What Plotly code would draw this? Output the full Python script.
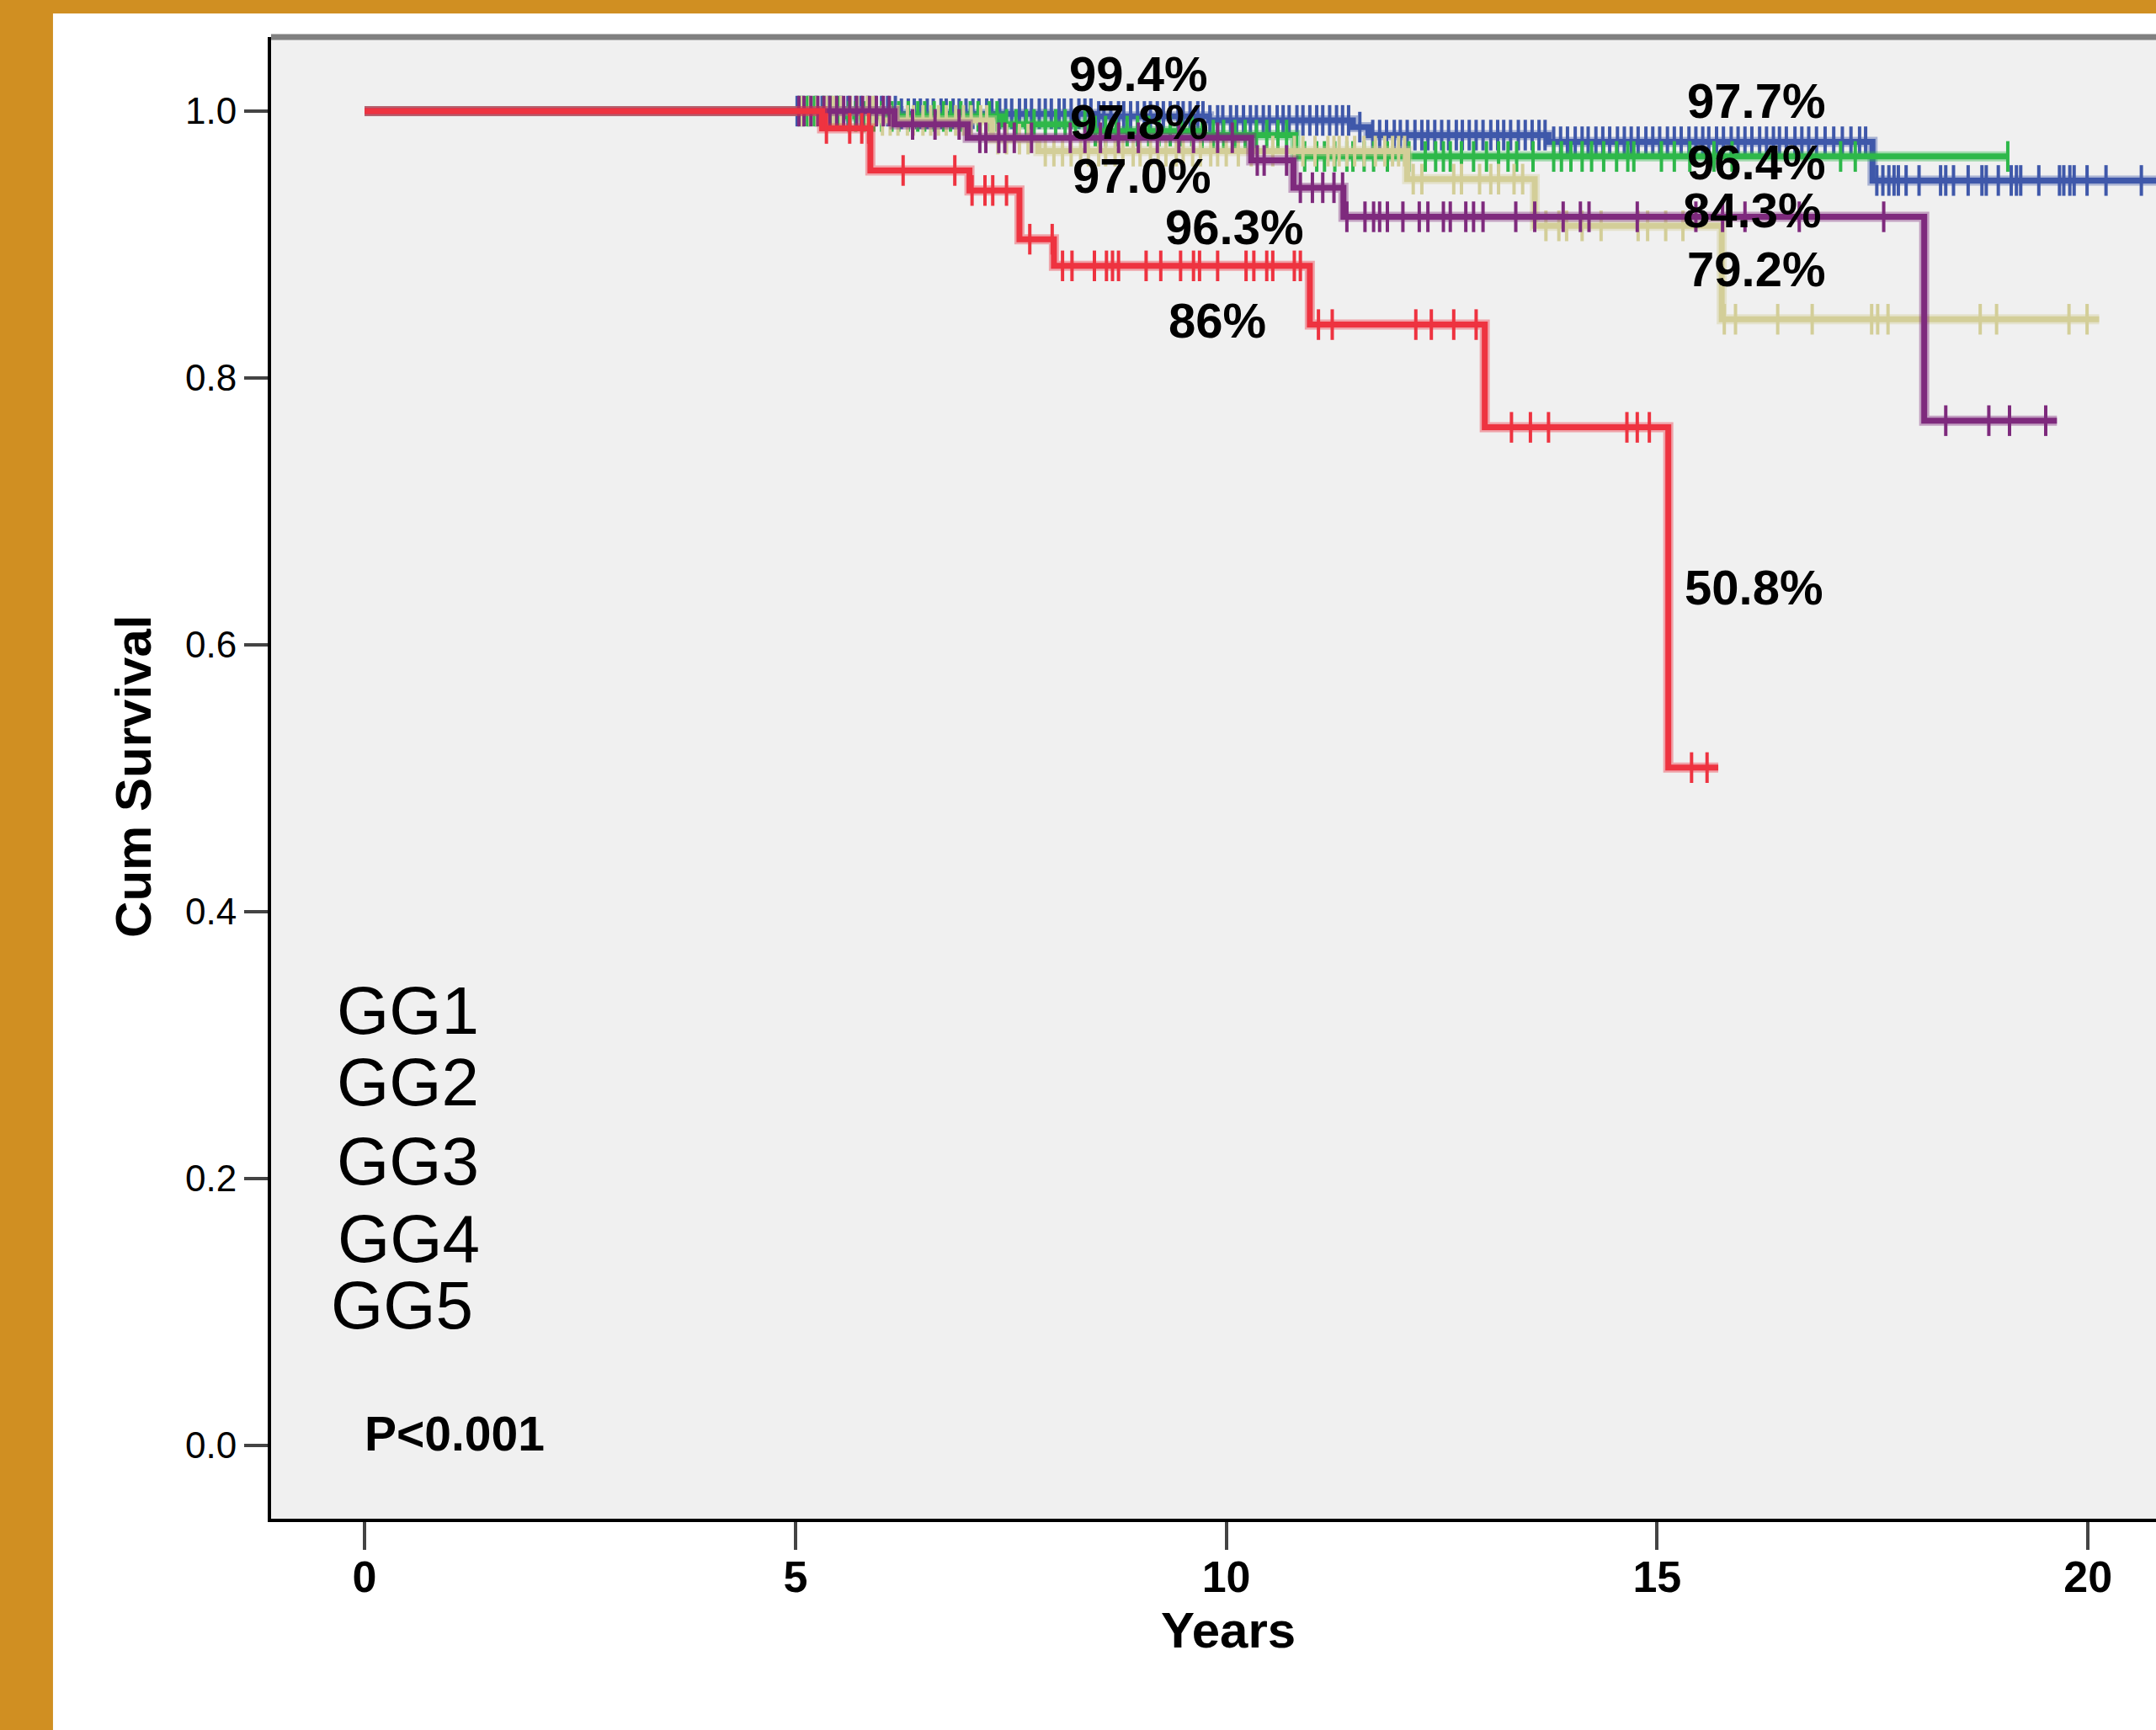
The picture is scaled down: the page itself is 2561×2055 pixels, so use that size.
import plotly.graph_objects as go

# ---------------- data ----------------
groups = ["GG1", "GG2", "GG3", "GG4", "GG5"]
colors = ["#3F58AA", "#2EB84A", "#D3CE98", "#7E2A7D", "#EE3340"]

# step-function event times (years) and cumulative survival
gg1_t = [0, 6.2, 8.5, 9.8, 11.47, 11.65, 13.74, 17.5, 20.9]
gg1_s = [1.0, 0.998, 0.996, 0.993, 0.988, 0.982, 0.977, 0.948, 0.948]
gg2_t = [0, 5.6, 7.4, 8.4, 9.7, 10.8, 19.07]
gg2_s = [1.0, 0.996, 0.990, 0.985, 0.982, 0.966, 0.966]
gg3_t = [0, 6.0, 7.28, 7.82, 12.1, 13.58, 15.75, 20.13]
gg3_s = [1.0, 0.993, 0.979, 0.970, 0.949, 0.914, 0.844, 0.844]
gg4_t = [0, 6.15, 7.0, 10.29, 10.78, 11.36, 18.1, 19.64]
gg4_s = [1.0, 0.990, 0.980, 0.963, 0.9426, 0.9208, 0.768, 0.768]
gg5_t = [0, 5.31, 5.87, 7.02, 7.6, 8.0, 10.97, 13.0, 15.13, 15.71]
gg5_s = [1.0, 0.987, 0.9555, 0.9405, 0.904, 0.884, 0.840, 0.763, 0.508, 0.508]

# censored observation times (years)
gg1_cens = [5.02, 5.09, 5.15, 5.24, 5.31, 5.38, 5.47, 5.53, 5.61, 5.70, 5.76, 5.84, 5.93,
            6.00, 6.07, 6.16, 6.23, 6.31, 6.38, 6.45, 6.53, 6.60, 6.69, 6.75, 6.83, 6.90,
            6.98, 7.06, 7.13, 7.22, 7.28, 7.37, 7.44, 7.51, 7.60, 7.67, 7.74, 7.83, 7.90,
            7.97, 8.06, 8.12, 8.20, 8.29, 8.36, 8.43, 8.52, 8.58, 8.66, 8.75, 8.81, 8.89,
            8.97, 9.05, 9.12, 9.20, 9.27, 9.35, 9.44, 9.50, 9.58, 9.67, 9.73, 9.81, 9.90,
            9.96, 10.05, 10.12, 10.20, 10.28, 10.35, 10.43, 10.50, 10.59, 10.66, 10.73,
            10.82, 10.89, 10.97, 11.05, 11.12, 11.20, 11.28, 11.35, 11.42, 11.55, 11.70,
            11.78, 11.86, 11.95, 12.02, 12.10, 12.19, 12.27, 12.34, 12.42, 12.50, 12.58,
            12.67, 12.74, 12.82, 12.90, 12.98, 13.07, 13.15, 13.22, 13.30, 13.39, 13.47,
            13.55, 13.63, 13.70, 13.80, 13.88, 13.96, 14.05, 14.13, 14.20, 14.29, 14.37,
            14.45, 14.54, 14.62, 14.70, 14.78, 14.87, 14.95, 15.03, 15.12, 15.20, 15.28,
            15.37, 15.45, 15.53, 15.60, 15.69, 15.77, 15.86, 15.94, 16.02, 16.10, 16.19,
            16.27, 16.35, 16.42, 16.50, 16.60, 16.68, 16.76, 16.85, 16.95, 17.05, 17.15,
            17.25, 17.35, 17.42, 17.55, 17.62, 17.69, 17.75, 17.80, 17.89, 18.04, 18.29,
            18.35, 18.44, 18.61, 18.77, 18.82, 18.96, 19.11, 19.17, 19.22, 19.43, 19.67,
            19.72, 19.79, 19.84, 19.99, 20.21, 20.62]
gg2_cens = [5.05, 5.14, 5.22, 5.33, 5.41, 5.50, 5.62, 5.70, 5.80, 5.91, 6.00, 6.12, 6.20,
            6.31, 6.42, 6.50, 6.61, 6.72, 6.80, 6.92, 7.03, 7.12, 7.25, 7.34, 7.45, 7.56,
            7.68, 7.77, 7.90, 8.02, 8.13, 8.25, 8.36, 8.48, 8.60, 8.72, 8.85, 8.97, 9.10,
            9.22, 9.35, 9.48, 9.60, 9.72, 9.85, 9.97, 10.10, 10.22, 10.35, 10.47, 10.60,
            10.70, 10.91, 11.05, 11.14, 11.26, 11.40, 11.47, 11.60, 11.71, 11.87, 12.12,
            12.31, 12.43, 12.52, 12.60, 12.73, 12.87, 13.02, 13.16, 13.27, 13.37, 13.56,
            13.80, 13.89, 14.00, 14.13, 14.24, 14.38, 14.53, 14.66, 14.73, 15.05, 15.20,
            15.38, 15.66, 15.87, 17.13, 17.30, 19.07]
gg3_cens = [5.08, 5.17, 5.25, 5.36, 5.44, 5.53, 5.64, 5.72, 5.83, 5.90, 6.01, 6.10, 6.19,
            6.30, 6.37, 6.48, 6.57, 6.66, 6.75, 6.86, 6.95, 7.04, 7.15, 7.22, 7.35, 7.45,
            7.60, 7.70, 7.90, 8.00, 8.10, 8.20, 8.31, 8.40, 8.52, 8.60, 8.71, 8.80, 8.92,
            9.00, 9.12, 9.21, 9.30, 9.42, 9.50, 9.61, 9.70, 9.82, 9.90, 10.00, 10.14,
            10.29, 10.54, 10.79, 10.89, 11.03, 11.18, 11.25, 11.31, 11.40, 11.49, 11.60,
            11.73, 11.84, 11.93, 12.00, 12.07, 12.17, 12.27, 12.64, 12.73, 12.94, 13.07,
            13.16, 13.34, 13.44, 13.71, 13.86, 13.95, 14.13, 14.35, 14.78, 14.89, 15.10,
            15.30, 15.78, 15.91, 16.40, 16.80, 17.49, 17.56, 17.68, 18.75, 18.94, 19.78,
            19.99]
gg4_cens = [5.04, 5.10, 5.18, 5.26, 5.33, 5.40, 5.48, 5.56, 5.63, 5.71, 5.78, 5.86, 5.94,
            6.02, 6.09, 6.36, 6.62, 6.90, 7.14, 7.21, 7.36, 7.43, 7.54, 7.74, 8.19, 8.36,
            8.54, 8.75, 8.98, 9.20, 9.45, 9.62, 9.90, 10.07, 10.36, 10.44, 10.70, 10.86,
            11.00, 11.12, 11.25, 11.35, 11.40, 11.61, 11.71, 11.78, 11.87, 12.05, 12.24,
            12.34, 12.52, 12.60, 12.78, 12.87, 12.98, 13.36, 13.58, 13.91, 14.11, 14.21,
            14.77, 15.45, 15.76, 16.02, 16.65, 17.63, 18.35, 18.85, 19.09, 19.51]
gg5_cens = [5.36, 5.63, 5.77, 5.85, 6.25, 6.85, 7.05, 7.20, 7.29, 7.45, 7.72, 7.98, 8.10,
            8.21, 8.47, 8.61, 8.68, 8.75, 9.07, 9.24, 9.47, 9.62, 9.69, 9.90, 10.23, 10.32,
            10.47, 10.54, 10.79, 10.86, 11.07, 11.23, 12.20, 12.38, 12.64, 12.90, 13.31,
            13.53, 13.74, 14.65, 14.77, 14.91, 15.40, 15.58]

# rate labels
pct_labels = ["99.4%", "97.8%", "97.0%", "96.3%", "86%",
              "97.7%", "96.4%", "84.3%", "79.2%", "50.8%"]
pct_x = [8.98, 8.99, 9.02, 10.09, 9.90, 16.15, 16.15, 16.10, 16.15, 16.12]
pct_y = [1.028, 0.992, 0.952, 0.913, 0.8435, 1.008, 0.962, 0.9256, 0.882, 0.6435]

x_ticks = [0, 5, 10, 15, 20]
y_ticks = [0.0, 0.2, 0.4, 0.6, 0.8, 1.0]
y_ticktext = ["0.0", "0.2", "0.4", "0.6", "0.8", "1.0"]

# ---------------- figure ----------------
series_t = [gg1_t, gg2_t, gg3_t, gg4_t, gg5_t]
series_s = [gg1_s, gg2_s, gg3_s, gg4_s, gg5_s]
series_c = [gg1_cens, gg2_cens, gg3_cens, gg4_cens, gg5_cens]


def step_at(ts, ss, c):
    v = ss[0]
    for t, s in zip(ts, ss):
        if t <= c:
            v = s
    return v


fig = go.Figure()
for name, col, ts, ss, cs in zip(groups, colors, series_t, series_s, series_c):
    fig.add_trace(go.Scatter(x=ts, y=ss, mode="lines", line=dict(color=col, width=12, shape="hv"),
                             opacity=0.4, hoverinfo="skip", showlegend=False))
    fig.add_trace(go.Scatter(x=ts, y=ss, mode="lines", name=name,
                             line=dict(color=col, width=7, shape="hv"), showlegend=False))
    fig.add_trace(go.Scatter(x=cs, y=[step_at(ts, ss, c) for c in cs], mode="markers",
                             marker=dict(symbol="line-ns", size=26,
                                         line=dict(color=col, width=4)),
                             showlegend=False, hoverinfo="skip"))

annots = []
for t, x, y in zip(pct_labels, pct_x, pct_y):
    annots.append(dict(x=x, y=y, xref="x", yref="y", text=t, showarrow=False,
                       xanchor="center", yanchor="middle",
                       font=dict(family="Liberation Sans, Arial", size=58, color="black", weight="bold")))

gg_x = [-0.342, -0.342, -0.342, -0.33, -0.41]
gg_y = [0.326, 0.272, 0.213, 0.155, 0.105]
for g, x, y in zip(groups, gg_x, gg_y):
    annots.append(dict(x=x, y=y, xref="x", yref="y", text=g, showarrow=False,
                       xanchor="left", yanchor="middle",
                       font=dict(family="Liberation Sans, Arial", size=80, color="black")))

annots.append(dict(x=1.045, y=0.0088, xref="x", yref="y", text="P<0.001", showarrow=False,
                   xanchor="center", yanchor="middle",
                   font=dict(family="Liberation Sans, Arial", size=57, color="black", weight="bold")))
annots.append(dict(x=10.02, y=-0.075, xref="x", yref="paper", text="Years", showarrow=False,
                   xanchor="center", yanchor="middle",
                   font=dict(family="Liberation Sans, Arial", size=60, color="black", weight="bold")))
annots.append(dict(x=-0.0728, y=0.5006, xref="paper", yref="paper", text="Cum Survival",
                   showarrow=False, textangle=-90, xanchor="center", yanchor="middle",
                   font=dict(family="Liberation Sans, Arial", size=60, color="black", weight="bold")))

shapes = [
    # top frame line
    dict(type="line", xref="paper", yref="paper", x0=0, x1=1, y0=1, y1=1,
         line=dict(color="#808080", width=7)),
    # orange border (left and top)
    dict(type="rect", xref="paper", yref="paper", x0=-0.2, x1=-0.1157, y0=-0.2, y1=1.1,
         line=dict(width=0), fillcolor="#D08F22", layer="above"),
    dict(type="rect", xref="paper", yref="paper", x0=-0.2, x1=1.1, y0=1.0159, y1=1.1,
         line=dict(width=0), fillcolor="#D08F22", layer="above"),
]

fig.update_layout(
    width=2561, height=2055,
    margin=dict(l=322, r=0, t=44, b=251, pad=0),
    paper_bgcolor="white", plot_bgcolor="#F0F0F0",
    annotations=annots, shapes=shapes, showlegend=False,
    xaxis=dict(range=[-1.085, 20.79], tickvals=x_ticks, showgrid=False, zeroline=False,
               showline=True, linecolor="black", linewidth=4, ticks="outside",
               ticklen=33, tickwidth=4, tickcolor="#444444", ticklabelstandoff=-12,
               tickfont=dict(family="Liberation Sans Narrow, Liberation Sans, Arial", size=52,
                             color="black", weight="bold")),
    yaxis=dict(range=[-0.0549, 1.0555], tickvals=y_ticks, ticktext=y_ticktext,
               showgrid=False, zeroline=False, showline=True, linecolor="black", linewidth=4,
               ticks="outside", ticklen=28, tickwidth=4, tickcolor="#444444",
               tickfont=dict(family="Liberation Sans, Arial", size=44, color="black")),
)

fig.write_html("out.html", config={"displayModeBar": False},
               post_script="document.body.style.margin='0px';")
